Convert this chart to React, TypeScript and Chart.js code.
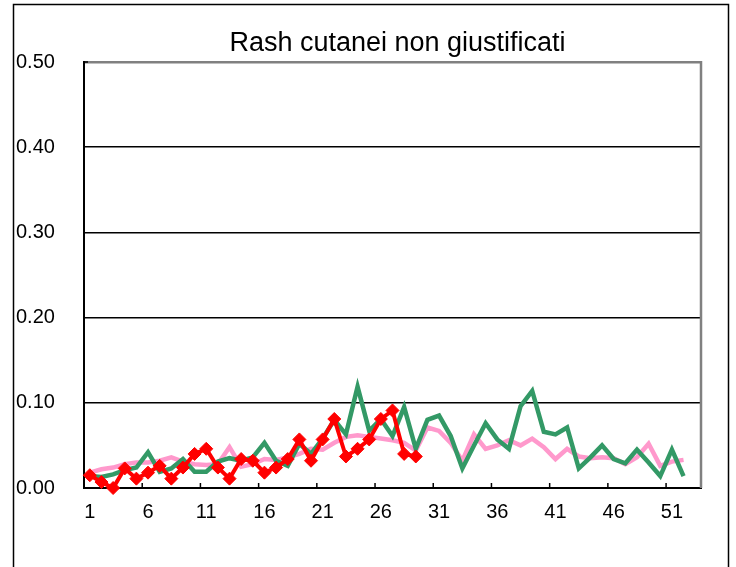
import React, { useEffect, useRef } from "react";
import { Chart, registerables } from "chart.js";

Chart.register(...registerables);

const chartTitle = "Rash cutanei non giustificati";

const weeks = [
  "1", "2", "3", "4", "5", "6", "7", "8", "9", "10",
  "11", "12", "13", "14", "15", "16", "17", "18", "19", "20",
  "21", "22", "23", "24", "25", "26", "27", "28", "29", "30",
  "31", "32", "33", "34", "35", "36", "37", "38", "39", "40",
  "41", "42", "43", "44", "45", "46", "47", "48", "49", "50",
  "51", "52", "53",
];

const pinkSeries = [
  0.018, 0.022, 0.024, 0.028, 0.030, 0.030, 0.032, 0.036, 0.031, 0.028,
  0.027, 0.028, 0.048, 0.025, 0.028, 0.034, 0.033, 0.036, 0.040, 0.046,
  0.045, 0.053, 0.060, 0.062, 0.060, 0.058, 0.056, 0.053, 0.044, 0.071,
  0.067, 0.053, 0.032, 0.063, 0.046, 0.050, 0.056, 0.050, 0.058, 0.048,
  0.034, 0.046, 0.037, 0.035, 0.036, 0.035, 0.028, 0.036, 0.052, 0.026,
  0.031, 0.033,
];

const greenSeries = [
  0.014, 0.013, 0.016, 0.021, 0.024, 0.042, 0.019, 0.023, 0.034, 0.019,
  0.019, 0.031, 0.035, 0.032, 0.036, 0.053, 0.032, 0.026, 0.052, 0.040,
  0.058, 0.080, 0.063, 0.119, 0.067, 0.081, 0.061, 0.095, 0.046, 0.080,
  0.085, 0.061, 0.023, 0.050, 0.076, 0.057, 0.046, 0.096, 0.114, 0.066,
  0.063, 0.071, 0.023, 0.036, 0.050, 0.034, 0.029, 0.045, 0.030, 0.014,
  0.045, 0.014,
];

const redSeries = [
  0.015, 0.007, 0.000, 0.023, 0.011, 0.018, 0.026, 0.011, 0.024, 0.040,
  0.046, 0.024, 0.011, 0.034, 0.032, 0.018, 0.024, 0.034, 0.057, 0.032,
  0.057, 0.081, 0.037, 0.046, 0.057, 0.081, 0.091, 0.040, 0.037,
];

const yTicks = [0, 0.1, 0.2, 0.3, 0.4, 0.5];
const labelEvery = 5;

const framePlugin = {
  id: "frame",
  beforeDraw(chart: any) {
    const ctx = chart.ctx;
    ctx.save();
    ctx.fillStyle = "#ffffff";
    ctx.fillRect(0, 0, chart.width, chart.height);
    ctx.strokeStyle = "#000000";
    ctx.lineWidth = 1.5;
    ctx.strokeRect(13.5, 4.5, 715, 700);
    ctx.restore();
  },
  afterDatasetsDraw(chart: any) {
    const ctx = chart.ctx;
    const area = chart.chartArea;
    const xs = chart.scales.x;
    ctx.save();
    ctx.strokeStyle = "#808080";
    ctx.lineWidth = 2.5;
    ctx.beginPath();
    ctx.moveTo(area.right, area.top - 1);
    ctx.lineTo(area.right, area.bottom);
    ctx.stroke();
    ctx.strokeStyle = "#000000";
    ctx.lineWidth = 1.5;
    for (let i = labelEvery; i < weeks.length; i += labelEvery) {
      const x = (xs.getPixelForValue(i - 1) + xs.getPixelForValue(i)) / 2;
      ctx.beginPath();
      ctx.moveTo(x, area.bottom);
      ctx.lineTo(x, area.bottom - 5);
      ctx.stroke();
    }
    ctx.beginPath();
    ctx.moveTo(area.left, area.top);
    ctx.lineTo(area.left + 4, area.top);
    ctx.stroke();
    ctx.restore();
  },
  afterDraw(chart: any) {
    const ctx = chart.ctx;
    const area = chart.chartArea;
    ctx.save();
    ctx.fillStyle = "#000000";
    ctx.font = "27px 'Liberation Sans', Arial, sans-serif";
    ctx.textAlign = "center";
    ctx.textBaseline = "middle";
    ctx.fillText(chartTitle, (area.left + area.right) / 2 + 5, 44);
    ctx.restore();
  },
};

export default function App() {
  const canvasRef = useRef<HTMLCanvasElement | null>(null);

  useEffect(() => {
    document.body.style.margin = "0";
    const canvas = canvasRef.current;
    if (!canvas) return;
    const chart = new Chart(canvas, {
      type: "line",
      data: {
        labels: weeks,
        datasets: [
          {
            label: "red",
            data: redSeries,
            borderColor: "#FF0000",
            backgroundColor: "#FF0000",
            borderWidth: 4,
            pointStyle: "rectRot",
            pointRadius: 6.5,
            pointBorderWidth: 1,
            pointBorderColor: "#FF0000",
            pointBackgroundColor: "#FF0000",
            tension: 0,
            clip: false,
          },
          {
            label: "green",
            data: greenSeries,
            borderColor: "#339966",
            backgroundColor: "#339966",
            borderWidth: 4.5,
            pointRadius: 0,
            tension: 0,
          },
          {
            label: "pink",
            data: pinkSeries,
            borderColor: "#FF99CC",
            backgroundColor: "#FF99CC",
            borderWidth: 4.5,
            pointRadius: 0,
            tension: 0,
          },
        ],
      },
      options: {
        responsive: false,
        animation: false,
        devicePixelRatio: 1,
        layout: { padding: { left: 16, top: 62, right: 35, bottom: 0 } },
        plugins: {
          legend: { display: false },
          title: { display: false },
          tooltip: { enabled: false },
        },
        scales: {
          x: {
            type: "category",
            offset: true,
            grid: { display: false, drawTicks: false },
            border: { display: true, color: "#000000", width: 2 },
            ticks: {
              autoSkip: false,
              maxRotation: 0,
              padding: 12,
              color: "#000000",
              font: { family: "'Liberation Sans', Arial, sans-serif", size: 20 },
              callback: (_v: any, i: number) =>
                i % labelEvery === 0 ? weeks[i] : "",
            },
            afterFit: (s: any) => {
              s.height = 79;
            },
          },
          y: {
            min: 0,
            max: 0.5,
            afterBuildTicks: (s: any) => {
              s.ticks = yTicks.map((v) => ({ value: v }));
            },
            grid: {
              drawTicks: false,
              color: (c: any) =>
                c.tick && c.tick.value >= 0.5 ? "#808080" : "#000000",
              lineWidth: (c: any) =>
                c.tick && c.tick.value >= 0.5 ? 2.5 : 1.5,
            },
            border: { display: true, color: "#000000", width: 2 },
            ticks: {
              crossAlign: "far",
              padding: 0,
              color: "#000000",
              font: { family: "'Liberation Sans', Arial, sans-serif", size: 20 },
              callback: (v: any) => Number(v).toFixed(2),
            },
            afterFit: (s: any) => {
              s.width = 68;
            },
          },
        },
      },
      plugins: [framePlugin],
    });
    return () => chart.destroy();
  }, []);

  return (
    <div style={{ position: "absolute", left: 0, top: 0, width: 736, height: 567 }}>
      <canvas ref={canvasRef} width={736} height={567} />
    </div>
  );
}
